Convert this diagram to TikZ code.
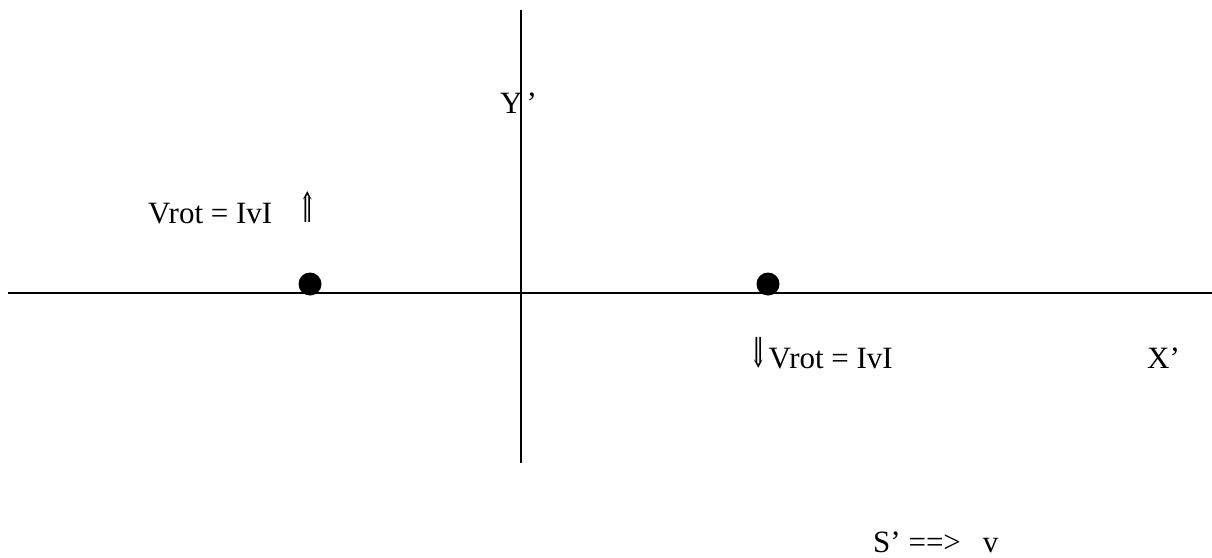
\documentclass[tikz,border=0pt]{standalone}
\usepackage{fontspec}
\setmainfont{Liberation Serif}
\newfontfamily\arrowfont{DejaVu Serif}
\newcommand{\tallarrow}[1]{{\arrowfont\fontsize{26}{30}\selectfont\raisebox{1pt}{\scalebox{0.85}[1.6]{#1}}}}
\begin{document}
\begin{tikzpicture}[x=1pt,y=-1pt,
  lbl/.style={anchor=base west,inner sep=0pt,font=\fontsize{31}{36}\selectfont},
  dot/.style={circle,fill=black,inner sep=0pt,minimum size=23pt},
  axis/.style={line width=2pt}]
\useasboundingbox (0,0) rectangle (1212,557);
\coordinate (xl) at (8,293);
\coordinate (xr) at (1212,293);
\coordinate (yt) at (521,10);
\coordinate (yb) at (521,463);
\draw[axis] (xl) -- (xr);
\draw[axis] (yt) -- (yb);
\node[dot] (d1) at (310,284) {};
\node[dot] (d2) at (768,284) {};
\node[lbl] (ylab) at (500,113) {Y\hspace{4pt}’};
\node[lbl] (v1) at (148,223) {Vrot = IvI\hspace{26pt}\tallarrow{⇑}};
\node[lbl] (v2) at (749,368) {\tallarrow{⇓}\hspace{1pt}Vrot = IvI};
\node[lbl] (xlab) at (1147,368) {X’};
\node[lbl] (s) at (873,552) {S’ ==>\hspace{22pt}v};
\end{tikzpicture}
\end{document}
